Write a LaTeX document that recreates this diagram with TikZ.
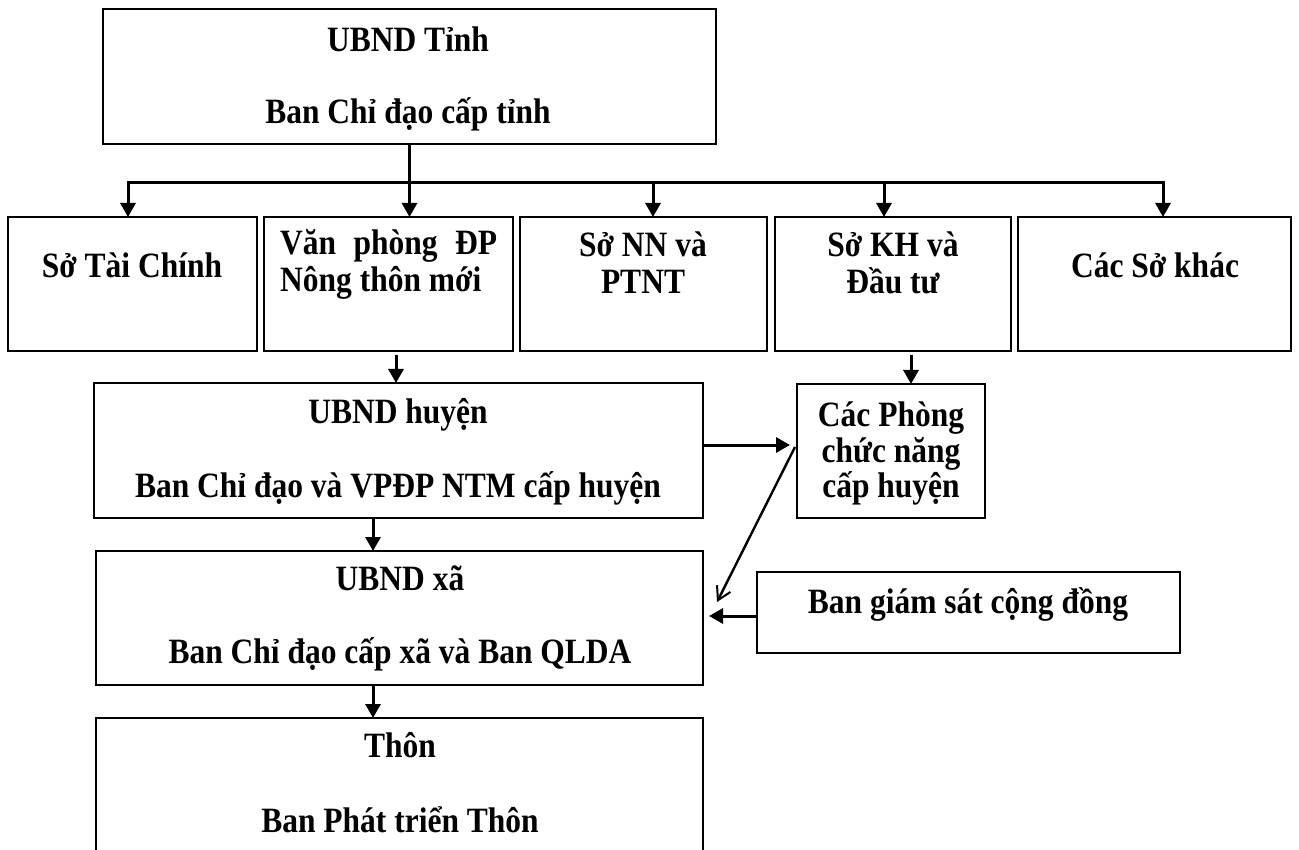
\documentclass[tikz,border=0pt]{standalone}
\usepackage{fontspec}
\usepackage{graphicx}
\setmainfont{Liberation Serif}
\usetikzlibrary{arrows.meta}
\newcommand\talltxt[1]{\scalebox{1}[1.13]{#1}}
\begin{document}
\begin{tikzpicture}[x=1pt,y=-1pt,
  box/.style={draw, line width=2.2pt, inner sep=0pt, outer sep=0pt, anchor=north west},
  lbl/.style={font=\fontsize{31.5}{36}\selectfont\bfseries, inner sep=0pt, anchor=base},
  arr/.style={line width=3pt, -{Triangle[length=14pt,width=15pt]}},
  diag/.style={line width=2.4pt, -{Straight Barb[length=13pt,width=15pt,line width=2pt]}}]
\useasboundingbox (0,0) rectangle (1299,850);
% boxes
\node[box, minimum width=613pt, minimum height=135pt] (tinh) at (103,9) {};
\node[box, minimum width=249pt, minimum height=134pt] (tc) at (8,217) {};
\node[box, minimum width=249pt, minimum height=134pt] (vp) at (264,217) {};
\node[box, minimum width=247pt, minimum height=134pt] (nn) at (520,217) {};
\node[box, minimum width=236pt, minimum height=134pt] (kh) at (775,217) {};
\node[box, minimum width=273pt, minimum height=134pt] (khac) at (1018,217) {};
\node[box, minimum width=609pt, minimum height=135pt] (huyen) at (94,383) {};
\node[box, minimum width=188pt, minimum height=134pt] (phong) at (797,384) {};
\node[box, minimum width=607pt, minimum height=134pt] (xa) at (96,551) {};
\node[box, minimum width=423pt, minimum height=81pt] (gs) at (757,572) {};
\node[box, minimum width=607pt, minimum height=150pt] (thon) at (96,718) {};
% texts
\node[lbl] (t1) at (408,52) {\talltxt{UBND Tỉnh}};
\node[lbl] (t2) at (408,124) {\talltxt{Ban Chỉ đạo cấp tỉnh}};
\node[lbl] (t3) at (132,278) {\talltxt{Sở Tài Chính}};
\node[lbl, anchor=base west] (t4) at (280,255) {\talltxt{\makebox[217pt][s]{Văn phòng ĐP}}};
\node[lbl, anchor=base west] (t5) at (280,292) {\talltxt{Nông thôn mới}};
\node[lbl] (t6) at (643,257) {\talltxt{Sở NN và}};
\node[lbl] (t7) at (643,294) {\talltxt{PTNT}};
\node[lbl] (t8) at (893,257) {\talltxt{Sở KH và}};
\node[lbl] (t9) at (893,294) {\talltxt{Đầu tư}};
\node[lbl] (t10) at (1155,278) {\talltxt{Các Sở khác}};
\node[lbl] (t11) at (398,423) {\talltxt{UBND huyện}};
\node[lbl] (t12) at (398,497) {\talltxt{Ban Chỉ đạo và VPĐP NTM cấp huyện}};
\node[lbl] (t13) at (891,426) {\talltxt{Các Phòng}};
\node[lbl] (t14) at (891,462) {\talltxt{chức năng}};
\node[lbl] (t15) at (891,497) {\talltxt{cấp huyện}};
\node[lbl] (t16) at (400,590) {\talltxt{UBND xã}};
\node[lbl] (t17) at (400,663) {\talltxt{Ban Chỉ đạo cấp xã và Ban QLDA}};
\node[lbl] (t18) at (968,613) {\talltxt{Ban giám sát cộng đồng}};
\node[lbl] (t19) at (400,757) {\talltxt{Thôn}};
\node[lbl] (t20) at (400,832) {\talltxt{Ban Phát triển Thôn}};
% bus
\coordinate (bl) at (128,183);
\coordinate (br) at (1163,183);
\draw[line width=3pt] (tinh.south) -- (tinh.south |- bl);
\draw[line width=3pt, line cap=rect] (bl) -- (br);
\draw[arr] (bl) -- (bl |- tc.north);
\draw[arr] (tinh.south |- bl) -- (tinh.south |- vp.north);
\draw[arr] (653,183) -- (653,0 |- nn.north);
\draw[arr] (884,183) -- (884,0 |- kh.north);
\draw[arr] (br) -- (br |- khac.north);
% lower arrows
\coordinate (a1) at (396,355);
\draw[arr] (a1) -- (a1 |- huyen.north);
\coordinate (a2) at (911,355);
\draw[arr] (a2) -- (a2 |- phong.north);
\draw[arr, shorten >=7pt] (huyen.east |- 0,445) -- (phong.west |- 0,445);
\coordinate (a3) at (373,518);
\draw[arr] (a3) -- (a3 |- xa.north);
\coordinate (a4) at (373,685);
\draw[arr] (a4) -- (a4 |- thon.north);
\draw[arr, shorten >=6pt] (gs.west |- 0,616) -- (xa.east |- 0,616);
\coordinate (d1) at (795,447);
\coordinate (d2) at (717,602);
\draw[diag] (d1) -- (d2);
\end{tikzpicture}
\end{document}
